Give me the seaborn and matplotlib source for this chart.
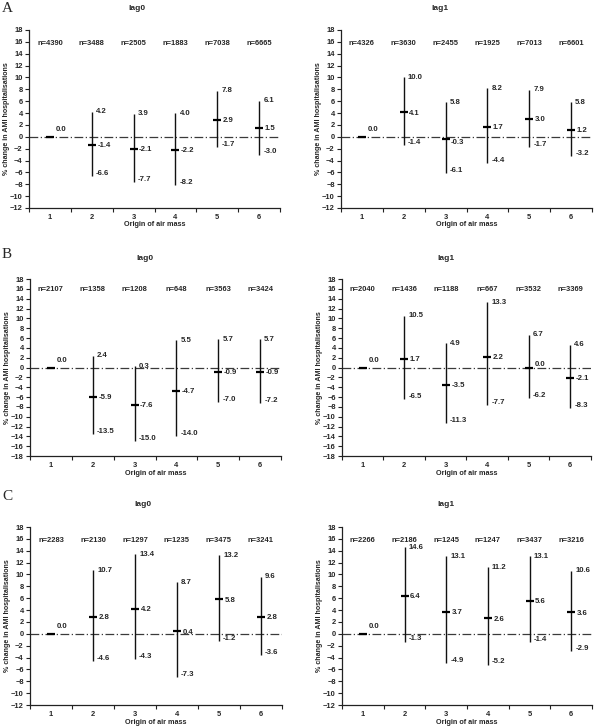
import matplotlib
matplotlib.use("Agg")
import matplotlib.pyplot as plt
import numpy as np
import pandas as pd
import seaborn as sns

origin = [1, 2, 3, 4, 5, 6]

# panel A
a0_n = [4390, 3488, 2505, 1883, 7038, 6665]
a0_est = [0.0, -1.4, -2.1, -2.2, 2.9, 1.5]
a0_lo = [0.0, -6.6, -7.7, -8.2, -1.7, -3.0]
a0_hi = [0.0, 4.2, 3.9, 4.0, 7.8, 6.1]

a1_n = [4326, 3630, 2455, 1925, 7013, 6601]
a1_est = [0.0, 4.1, -0.3, 1.7, 3.0, 1.2]
a1_lo = [0.0, -1.4, -6.1, -4.4, -1.7, -3.2]
a1_hi = [0.0, 10.0, 5.8, 8.2, 7.9, 5.8]

# panel B
b0_n = [2107, 1358, 1208, 648, 3563, 3424]
b0_est = [0.0, -5.9, -7.6, -4.7, -0.9, -0.9]
b0_lo = [0.0, -13.5, -15.0, -14.0, -7.0, -7.2]
b0_hi = [0.0, 2.4, 0.3, 5.5, 5.7, 5.7]

b1_n = [2040, 1436, 1188, 667, 3532, 3369]
b1_est = [0.0, 1.7, -3.5, 2.2, 0.0, -2.1]
b1_lo = [0.0, -6.5, -11.3, -7.7, -6.2, -8.3]
b1_hi = [0.0, 10.5, 4.9, 13.3, 6.7, 4.6]

# panel C
c0_n = [2283, 2130, 1297, 1235, 3475, 3241]
c0_est = [0.0, 2.8, 4.2, 0.4, 5.8, 2.8]
c0_lo = [0.0, -4.6, -4.3, -7.3, -1.2, -3.6]
c0_hi = [0.0, 10.7, 13.4, 8.7, 13.2, 9.6]

c1_n = [2266, 2186, 1245, 1247, 3437, 3216]
c1_est = [0.0, 6.4, 3.7, 2.6, 5.6, 3.6]
c1_lo = [0.0, -1.3, -4.9, -5.2, -1.4, -2.9]
c1_hi = [0.0, 14.6, 13.1, 11.2, 13.1, 10.6]

sns.set_theme(style="ticks")
plt.rcParams["font.family"] = ["Liberation Sans", "DejaVu Sans"]
plt.rcParams["font.weight"] = "bold"

W, H = 600, 727
fig = plt.figure(figsize=(6, 7.27), dpi=100)


def rect(x0, x1, ytop, ybot):
    return [x0 / W, 1 - ybot / H, (x1 - x0) / W, (ybot - ytop) / H]


def draw_panel(box, n, est, lo, hi, ymin, title, title_xy):
    ax = fig.add_axes(box)
    df = pd.DataFrame({"origin": origin, "est": est, "lo": lo, "hi": hi, "n": n})

    ax.axhline(0, color="#3a3a3a", lw=0.9, ls=(0, (7, 2, 1, 2)), zorder=1)
    ax.vlines(df["origin"], df["lo"], df["hi"], color="#111111", lw=1.0, zorder=2)
    sns.scatterplot(data=df, x="origin", y="est", marker="_", s=30,
                    color="black", linewidth=1.6, ax=ax, zorder=3)

    fs = 5.6
    for i, row in df.iterrows():
        x = row["origin"]
        if row["lo"] == row["hi"]:
            ax.annotate(f"{row['est']:.1f}", (x, row["est"]), xytext=(4, 5),
                        textcoords="offset points", fontsize=fs, va="center", ha="left")
        else:
            # keep the estimate label clear of the zero line
            dy = -3 if -0.5 < row["est"] < 0 else (2 if 0 <= row["est"] < 0.3 else -0.5)
            ax.annotate(f"{row['hi']:.1f}", (x, row["hi"]), xytext=(3, 0),
                        textcoords="offset points", fontsize=fs, va="center", ha="left")
            ax.annotate(f"{row['est']:.1f}", (x, row["est"]), xytext=(4, dy),
                        textcoords="offset points", fontsize=fs, va="center", ha="left")
            ax.annotate(f"{row['lo']:.1f}", (x, row["lo"]), xytext=(3, 2),
                        textcoords="offset points", fontsize=fs, va="center", ha="left")
        ax.text(x, 15.8, f"n={int(row['n'])}", fontsize=5.4, ha="center", va="center")

    ax.set_xlim(0.5, 6.5)
    ax.set_ylim(ymin, 18)
    ax.set_xticks(np.arange(0.5, 7.0, 1.0))
    ax.set_xticklabels([])
    ax.set_xticks(origin, minor=True)
    ax.set_xticklabels([str(o) for o in origin], minor=True)
    ax.tick_params(axis="x", which="major", length=3, width=0.8, color="#222222")
    ax.tick_params(axis="x", which="minor", length=0, pad=4, labelsize=5.4)
    ax.set_yticks(np.arange(ymin, 19, 2))
    ax.tick_params(axis="y", length=3, width=0.8, color="#222222", pad=1.5, labelsize=5.4)
    for lab in ax.get_xticklabels(minor=True) + ax.get_yticklabels():
        lab.set_fontweight("bold")

    for side in ["top", "right"]:
        ax.spines[side].set_visible(False)
    for side in ["left", "bottom"]:
        ax.spines[side].set_linewidth(0.9)
        ax.spines[side].set_color("#222222")

    ax.set_xlabel("Origin of air mass", fontsize=5.2, fontweight="bold")
    ax.set_ylabel("% change in AMI hospitalisations", fontsize=5.1, fontweight="bold")
    ax.xaxis.set_label_coords(0.5, -13.5 / (box[3] * H))
    ax.yaxis.set_label_coords(-18.5 / (box[2] * W), 0.5)

    fig.text(title_xy[0] / W, 1 - title_xy[1] / H, title, fontsize=6,
             fontweight="bold", ha="center", va="center")
    return ax


draw_panel(rect(29, 280, 30, 208), a0_n, a0_est, a0_lo, a0_hi, -12, "lag0", (137, 9))
draw_panel(rect(341, 592, 30, 208), a1_n, a1_est, a1_lo, a1_hi, -12, "lag1", (440, 9))
draw_panel(rect(30, 281, 279, 456), b0_n, b0_est, b0_lo, b0_hi, -18, "lag0", (145, 259))
draw_panel(rect(342, 591, 279, 456), b1_n, b1_est, b1_lo, b1_hi, -18, "lag1", (446, 259))
draw_panel(rect(30, 282, 527, 705), c0_n, c0_est, c0_lo, c0_hi, -12, "lag0", (143, 504))
draw_panel(rect(342, 592, 527, 705), c1_n, c1_est, c1_lo, c1_hi, -12, "lag1", (446, 505))

for letter, (lx, ly) in zip(["A", "B", "C"], [(7, 8), (7, 255), (7, 496)]):
    fig.text(lx / W, 1 - ly / H, letter, fontsize=11, fontweight="normal",
             family=["Liberation Serif", "DejaVu Serif"], ha="center", va="center")

fig.savefig("out.png", dpi=100)
